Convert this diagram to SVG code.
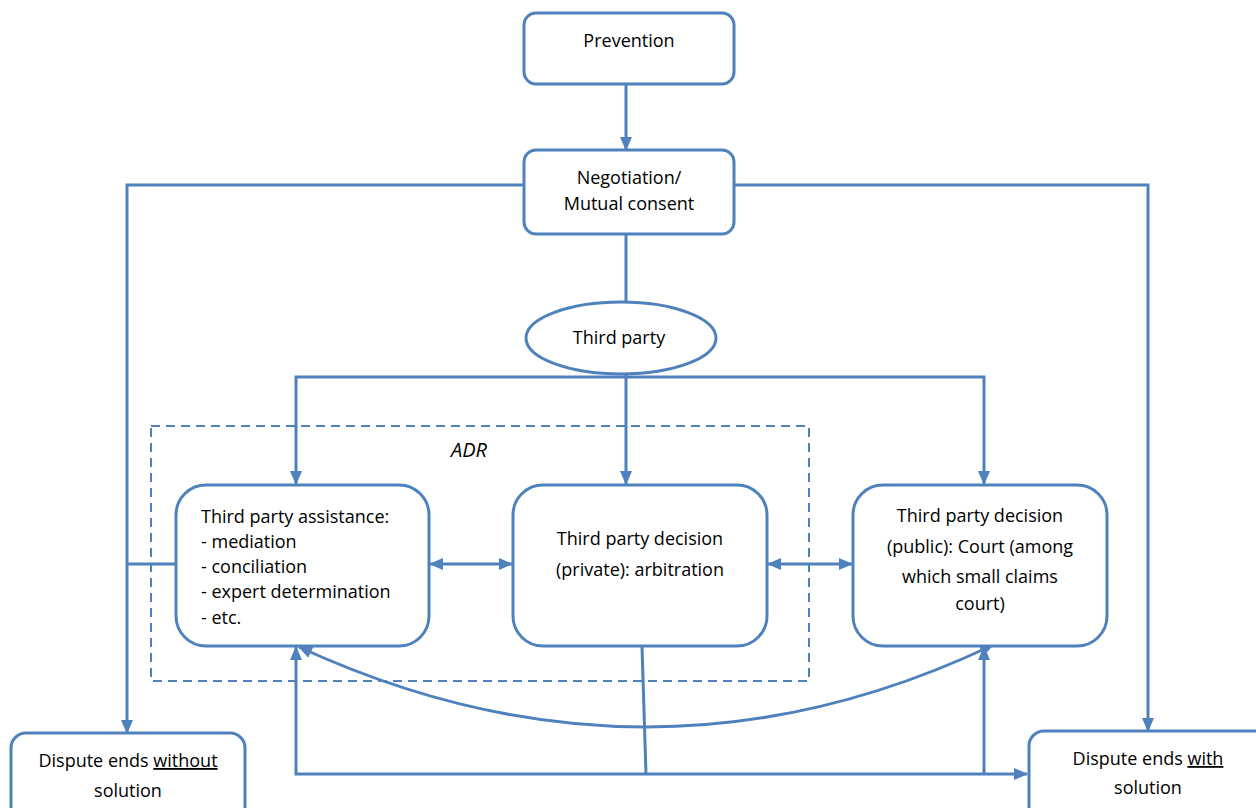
<svg xmlns="http://www.w3.org/2000/svg" width="1256" height="808" viewBox="0 0 1256 808">
<style>
.box{fill:#fff;stroke:#4F81BD;stroke-width:3}
.ln{fill:none;stroke:#4F81BD;stroke-width:3}
.dash{fill:none;stroke:#4F81BD;stroke-width:2;stroke-dasharray:9 6}
text{font-family:"Open Sans","Liberation Sans",sans-serif;font-size:18px;fill:#000}
.c{text-anchor:middle}
</style>
<defs>
<marker id="ah" markerUnits="userSpaceOnUse" markerWidth="14" markerHeight="14" viewBox="0 0 14 14" refX="13" refY="7" orient="auto-start-reverse">
<path d="M0,1 L14,7 L0,13 Z" fill="#4F81BD"/>
</marker>
</defs>
<rect width="1256" height="808" fill="#fff"/>
<g id="connectors">
<path class="ln" d="M626,84 V150" marker-end="url(#ah)"/>
<path class="ln" d="M524,185 H127 V733" marker-end="url(#ah)"/>
<path class="ln" d="M734,185 H1148 V731" marker-end="url(#ah)"/>
<path class="ln" d="M626,234 V302"/>
<path class="ln" d="M626,374 V484" marker-end="url(#ah)"/>
<path class="ln" d="M296,484 V377 H984 V484" marker-start="url(#ah)" marker-end="url(#ah)"/>
<path class="ln" d="M430,564 H512" marker-start="url(#ah)" marker-end="url(#ah)"/>
<path class="ln" d="M768,564 H852" marker-start="url(#ah)" marker-end="url(#ah)"/>
<path class="ln" d="M176,564 H127"/>
<path class="ln" d="M642,646 L646,774"/>
<path class="ln" d="M296,647 V774 H1027" marker-start="url(#ah)" marker-end="url(#ah)"/>
<path class="ln" d="M984,774 V647" marker-end="url(#ah)"/>
<path class="ln" d="M299,647 Q650,808 993,645" marker-start="url(#ah)" marker-end="url(#ah)"/>
</g>
<rect class="dash" x="151" y="426" width="658" height="255"/>
<text x="469" y="457" class="c" style="font-style:italic;font-size:20px">ADR</text>
<g id="prevention">
<rect class="box" x="524" y="13" width="210" height="71" rx="12"/>
<text x="629" y="47" class="c">Prevention</text>
</g>
<g id="negotiation">
<rect class="box" x="524" y="150" width="210" height="84" rx="12"/>
<text x="629" y="184" class="c">Negotiation/</text>
<text x="629" y="210" class="c">Mutual consent</text>
</g>
<g id="thirdparty">
<ellipse class="box" cx="621" cy="338" rx="95" ry="36"/>
<text x="619" y="344" class="c">Third party</text>
</g>
<g id="assistance">
<rect class="box" x="176" y="485" width="253" height="161" rx="30"/>
<text x="201" y="523">Third party assistance:</text>
<text x="201" y="548">- mediation</text>
<text x="201" y="573">- conciliation</text>
<text x="201" y="598">- expert determination</text>
<text x="201" y="624">- etc.</text>
</g>
<g id="arbitration">
<rect class="box" x="513" y="485" width="254" height="161" rx="30"/>
<text x="640" y="545" class="c">Third party decision</text>
<text x="640" y="576" class="c">(private): arbitration</text>
</g>
<g id="court">
<rect class="box" x="853" y="485" width="254" height="161" rx="30"/>
<text x="980" y="522" class="c">Third party decision</text>
<text x="980" y="553" class="c">(public): Court (among</text>
<text x="980" y="583" class="c">which small claims</text>
<text x="980" y="610" class="c">court)</text>
</g>
<g id="without">
<rect class="box" x="11" y="733" width="234" height="100" rx="15"/>
<text x="128" y="767" class="c">Dispute ends <tspan text-decoration="underline">without</tspan></text>
<text x="128" y="797" class="c">solution</text>
</g>
<g id="with">
<rect class="box" x="1029" y="731" width="260" height="100" rx="15"/>
<text x="1148" y="765" class="c">Dispute ends <tspan text-decoration="underline">with</tspan></text>
<text x="1148" y="794" class="c">solution</text>
</g>
</svg>
